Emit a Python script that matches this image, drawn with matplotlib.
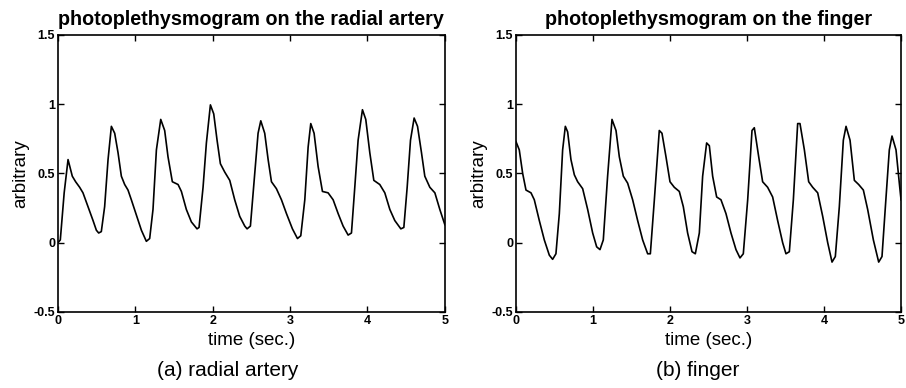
import matplotlib
matplotlib.use('Agg')
import matplotlib.pyplot as plt

# radial artery trace (time in s, arbitrary units)
t_radial = [0.000, 0.030, 0.080, 0.130, 0.185, 0.228, 0.280, 0.323, 0.388, 0.453,
            0.496, 0.526, 0.560, 0.603, 0.647, 0.690, 0.733, 0.776, 0.819, 0.862,
            0.905, 0.948, 1.013, 1.078, 1.142, 1.185, 1.228, 1.272, 1.328, 1.379,
            1.422, 1.478, 1.552, 1.595, 1.659, 1.724, 1.797, 1.823, 1.875, 1.918,
            1.970, 2.013, 2.056, 2.099, 2.155, 2.220, 2.284, 2.349, 2.414, 2.444,
            2.487, 2.543, 2.586, 2.621, 2.672, 2.716, 2.759, 2.823, 2.888, 2.953,
            3.030, 3.095, 3.138, 3.190, 3.233, 3.267, 3.310, 3.362, 3.418, 3.491,
            3.556, 3.621, 3.685, 3.750, 3.793, 3.836, 3.879, 3.935, 3.978, 4.030,
            4.082, 4.159, 4.224, 4.289, 4.353, 4.431, 4.470, 4.513, 4.556, 4.603,
            4.647, 4.698, 4.741, 4.806, 4.871, 4.935, 5.000]
v_radial = [0.00, 0.02, 0.36, 0.60, 0.48, 0.44, 0.40, 0.36, 0.26, 0.16,
            0.09, 0.07, 0.08, 0.26, 0.60, 0.84, 0.79, 0.65, 0.48, 0.42,
            0.38, 0.31, 0.20, 0.09, 0.01, 0.03, 0.24, 0.67, 0.89, 0.81,
            0.62, 0.44, 0.42, 0.37, 0.24, 0.15, 0.10, 0.11, 0.40, 0.72,
            0.995, 0.93, 0.74, 0.57, 0.51, 0.45, 0.31, 0.19, 0.12, 0.10,
            0.12, 0.50, 0.79, 0.88, 0.79, 0.60, 0.44, 0.39, 0.31, 0.21,
            0.10, 0.03, 0.05, 0.31, 0.69, 0.86, 0.79, 0.55, 0.37, 0.36,
            0.31, 0.21, 0.12, 0.055, 0.07, 0.40, 0.74, 0.96, 0.89, 0.65,
            0.45, 0.42, 0.36, 0.24, 0.16, 0.10, 0.11, 0.40, 0.74, 0.90,
            0.84, 0.65, 0.48, 0.40, 0.36, 0.24, 0.13]

# finger trace
t_finger = [0.000, 0.043, 0.087, 0.130, 0.195, 0.238, 0.303, 0.368, 0.433, 0.476,
            0.519, 0.563, 0.606, 0.641, 0.671, 0.714, 0.758, 0.801, 0.866, 0.931,
            0.996, 1.048, 1.091, 1.134, 1.190, 1.247, 1.299, 1.342, 1.394, 1.450,
            1.515, 1.580, 1.645, 1.710, 1.745, 1.797, 1.861, 1.896, 1.948, 2.000,
            2.056, 2.121, 2.173, 2.229, 2.286, 2.329, 2.381, 2.424, 2.476, 2.511,
            2.554, 2.606, 2.662, 2.727, 2.792, 2.857, 2.909, 2.952, 3.009, 3.065,
            3.095, 3.152, 3.203, 3.268, 3.333, 3.398, 3.463, 3.506, 3.550, 3.602,
            3.658, 3.688, 3.745, 3.801, 3.853, 3.918, 3.983, 4.048, 4.104, 4.147,
            4.199, 4.251, 4.286, 4.338, 4.394, 4.450, 4.511, 4.567, 4.641, 4.710,
            4.753, 4.797, 4.848, 4.883, 4.935, 4.978, 5.000]
v_finger = [0.73, 0.67, 0.50, 0.38, 0.36, 0.31, 0.16, 0.02, -0.09, -0.12,
            -0.08, 0.21, 0.67, 0.84, 0.80, 0.60, 0.49, 0.44, 0.39, 0.24,
            0.07, -0.03, -0.05, 0.02, 0.48, 0.89, 0.81, 0.62, 0.48, 0.43,
            0.31, 0.16, 0.02, -0.08, -0.08, 0.31, 0.81, 0.79, 0.62, 0.44,
            0.40, 0.37, 0.26, 0.07, -0.065, -0.08, 0.07, 0.48, 0.72, 0.70,
            0.48, 0.33, 0.31, 0.21, 0.07, -0.05, -0.11, -0.08, 0.31, 0.81,
            0.83, 0.62, 0.44, 0.40, 0.33, 0.16, 0.00, -0.08, -0.065, 0.31,
            0.86, 0.86, 0.67, 0.44, 0.40, 0.36, 0.19, 0.00, -0.14, -0.10,
            0.26, 0.74, 0.84, 0.74, 0.45, 0.42, 0.38, 0.24, 0.02, -0.14,
            -0.10, 0.26, 0.67, 0.77, 0.67, 0.43, 0.31]

titles = ["photoplethysmogram on the radial artery", "photoplethysmogram on the finger"]
captions = ["(a) radial artery", "(b) finger"]
xticks = [0, 1, 2, 3, 4, 5]
yticks = [-0.5, 0, 0.5, 1, 1.5]
ytick_labels = ["-0.5", "0", "0.5", "1", "1.5"]

plt.rcParams['font.family'] = ['Liberation Sans', 'DejaVu Sans']

fig = plt.figure(figsize=(9.06, 3.88), dpi=100)
ax_pos = [[0.064, 0.196, 0.427, 0.714], [0.5695, 0.196, 0.425, 0.714]]
cap_x = [0.251, 0.770]

for pos, cx, tt, vv, title, cap in zip(ax_pos, cap_x, [t_radial, t_finger], [v_radial, v_finger],
                                       titles, captions):
    ax = fig.add_axes(pos)
    ax.plot(tt, vv, color='black', linewidth=1.2, solid_joinstyle='round')
    ax.set_xlim(0, 5)
    ax.set_ylim(-0.5, 1.5)
    ax.set_xticks(xticks)
    ax.set_xticklabels([str(x) for x in xticks])
    ax.set_yticks(yticks)
    ax.set_yticklabels(ytick_labels)
    ax.tick_params(direction='in', top=True, right=True, length=4, width=1,
                   labelsize=9, pad=2)
    for lbl in ax.get_xticklabels() + ax.get_yticklabels():
        lbl.set_fontweight('bold')
    for sp in ax.spines.values():
        sp.set_linewidth(1.2)
    ax.set_title(title, fontsize=14.2, fontweight='bold', pad=7)
    ax.set_xlabel("time (sec.)", fontsize=13.5, labelpad=4)
    ax.set_ylabel("arbitrary", fontsize=13.5, labelpad=3)
    fig.text(cx, 0.044, cap, ha='center', va='center', fontsize=15)

plt.savefig('out.png', dpi=100)
